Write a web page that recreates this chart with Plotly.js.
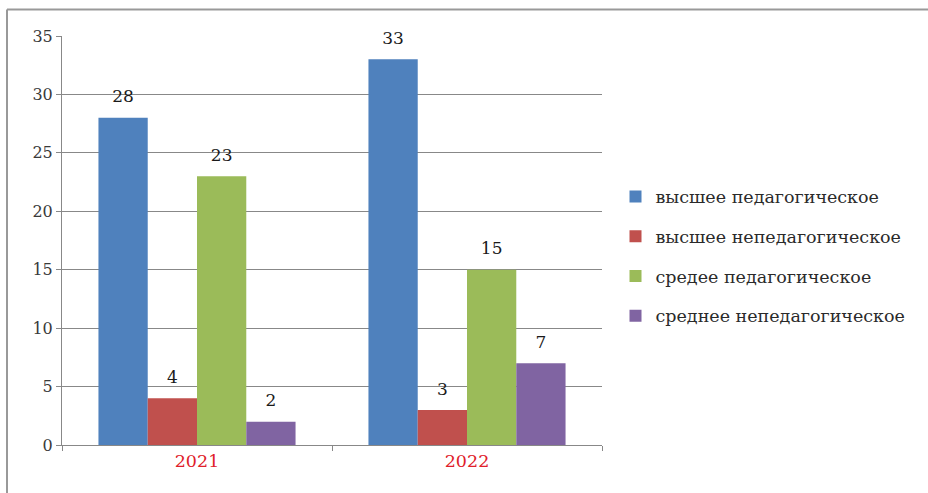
<!DOCTYPE html>
<html>
<head>
<meta charset="utf-8">
<script src="https://cdn.plot.ly/plotly-3.0.1.min.js"></script>
<style>
  html, body { margin: 0; padding: 0; background: #fff; }
  #chart { width: 928px; height: 493px; }
</style>
</head>
<body>
<div id="chart"></div>
<script>
const categories = ['2021', '2022'];
const seriesNames = ['высшее педагогическое', 'высшее непедагогическое', 'средее педагогическое', 'среднее непедагогическое'];
const higherPed = [28, 33];
const higherNonPed = [4, 3];
const secondaryPed = [23, 15];
const secondaryNonPed = [2, 7];
const yTicks = [0, 5, 10, 15, 20, 25, 30, 35];
const colors = ['#4F81BD', '#C0504D', '#9BBB59', '#8064A2'];

const seriesValues = [higherPed, higherNonPed, secondaryPed, secondaryNonPed];
const serif = 'DejaVu Serif';

const traces = seriesValues.map((vals, i) => ({
  type: 'bar',
  name: seriesNames[i],
  x: categories,
  y: vals,
  legendgroup: 'g' + i,
  marker: { color: colors[i] },
  text: vals.map(String),
  texttemplate: '<span style="font-size:17px">%{text}</span><br> ',
  textposition: 'outside',
  textfont: { family: serif, size: 8, color: '#1a1a1a' },
  cliponaxis: false,
  hoverinfo: 'x+y+name'
}));

const L = 62, R = 326, T = 36, B = 48;
const W = 928 - L - R, H = 493 - T - B;
const px = x => (x - L) / W;
const py = y => (493 - B - y) / H;

const layout = {
  width: 928, height: 493,
  margin: { l: L, r: R, t: T, b: B },
  font: { family: serif, color: '#222' },
  paper_bgcolor: '#fff', plot_bgcolor: '#fff',
  barmode: 'group',
  bargap: 0.27,
  bargroupgap: 0,
  showlegend: true,
  legend: {
    x: 1.025, xanchor: 'left', y: 0.462, yanchor: 'middle',
    traceorder: 'grouped', tracegroupgap: 14,
    font: { family: serif, size: 17.5, color: '#2a2a2a' },
    itemwidth: 30
  },
  xaxis: {
    type: 'category',
    tickson: 'boundaries',
    ticks: 'outside', ticklen: 5, tickcolor: '#888',
    showline: true, linecolor: '#888', linewidth: 1,
    showgrid: false,
    tickfont: { family: serif, size: 17.5, color: '#E0202A' }
  },
  yaxis: {
    range: [0, 35],
    tickvals: yTicks,
    ticktext: yTicks.map(String),
    ticks: 'outside', ticklen: 5, tickcolor: '#888',
    showline: true, linecolor: '#888', linewidth: 1,
    showgrid: true, gridcolor: '#888', gridwidth: 1,
    zeroline: false,
    tickfont: { family: serif, size: 16, color: '#3a3a3a' }
  },
  shapes: [
    { type: 'line', xref: 'paper', yref: 'paper', x0: px(7), x1: px(930), y0: py(9.5), y1: py(9.5), line: { color: '#999', width: 2 } },
    { type: 'line', xref: 'paper', yref: 'paper', x0: px(7), x1: px(7), y0: py(9.5), y1: py(495), line: { color: '#999', width: 2 } }
  ]
};

Plotly.newPlot('chart', traces, layout, { displayModeBar: false, staticPlot: true });
</script>
</body>
</html>
